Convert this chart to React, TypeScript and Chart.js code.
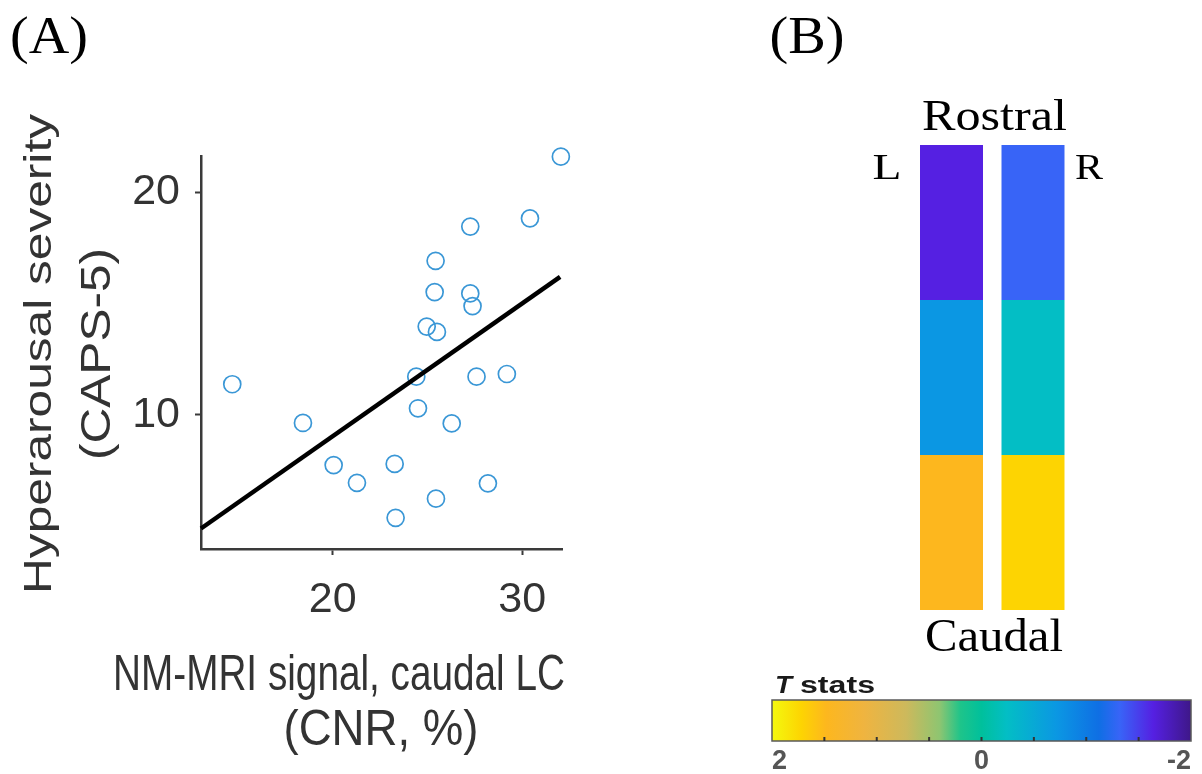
import React, { useEffect, useRef } from 'react';
import { Chart, registerables } from 'chart.js';

Chart.register(...registerables);

// ---------------- Panel A data ----------------
const cnrCaudalLC = [32.04, 30.41, 27.26, 25.43, 25.38, 27.26, 27.38, 24.96, 25.5, 24.41, 27.59, 29.19, 14.7, 24.5, 18.43, 26.28, 20.05, 23.27, 21.28, 28.19, 25.45, 23.32];
const hyperarousalSeverity = [21.6, 18.83, 18.46, 16.92, 15.52, 15.46, 14.89, 13.97, 13.73, 11.72, 11.72, 11.84, 11.38, 10.3, 9.64, 9.62, 7.75, 7.8, 6.95, 6.93, 6.24, 5.38];
const fitLineX = [13.05, 32.0];
const fitLineY = [4.9, 16.2];
const xTicksA = [20, 30];
const yTicksA = [10, 20];
const xLimitsA = [13.05, 32.1];
const yLimitsA = [3.98, 21.63];

// ---------------- Panel B data ----------------
const sideLabels = ['L', 'R'];
const segmentNames = ['Caudal', 'Middle', 'Rostral']; // bottom to top
const segmentLengths = [1, 1, 1];
const tStatsLeft = [1.48, -0.72, -1.64];
const tStatsRight = [1.72, -0.24, -1.32];
const tLimits = [-2, 2];
const tMinorTicks = [-2, -1.5, -1, -0.5, 0, 0.5, 1, 1.5, 2];
const tTickLabels = [2, 0, -2];

// colormap (T value -> colour)
const colormapT = [2, 1.72, 1.48, 1.12, 0.72, 0.4, 0.2, 0, -0.24, -0.72, -1.12, -1.32, -1.64, -2];
const colormapHex = ['#f4f90e', '#fdd402', '#fdb71e', '#efb440', '#cdb95c', '#8ec571', '#1ec48a', '#00c09c', '#03bec5', '#0b97e3', '#0f6fe4', '#3864f7', '#5520e2', '#3e1788'];

const SANS = "'Liberation Sans', Arial, Helvetica, sans-serif";
const SERIF = "'Liberation Serif', 'Times New Roman', serif";

function hexToRgb(h: string) {
  const n = parseInt(h.slice(1), 16);
  return [(n >> 16) & 255, (n >> 8) & 255, n & 255];
}

function colorForT(t: number): string {
  for (let i = 0; i < colormapT.length - 1; i++) {
    const a = colormapT[i];
    const b = colormapT[i + 1];
    if (t <= a && t >= b) {
      const f = (a - t) / (a - b);
      const ca = hexToRgb(colormapHex[i]);
      const cb = hexToRgb(colormapHex[i + 1]);
      const c = ca.map((v, k) => Math.round(v + (cb[k] - v) * f));
      return `rgb(${c[0]},${c[1]},${c[2]})`;
    }
  }
  return t > colormapT[0] ? colormapHex[0] : colormapHex[colormapHex.length - 1];
}

type TextOpts = {
  font: string;
  color?: string;
  align?: CanvasTextAlign;
  rotate?: number;
  width?: number;
};

function drawText(ctx: CanvasRenderingContext2D, text: string, x: number, y: number, o: TextOpts) {
  ctx.save();
  ctx.translate(x, y);
  if (o.rotate) ctx.rotate(o.rotate);
  ctx.font = o.font;
  ctx.fillStyle = o.color || '#333';
  ctx.textAlign = o.align || 'center';
  ctx.textBaseline = 'alphabetic';
  if (o.width) {
    const w = ctx.measureText(text).width;
    if (w > 0) ctx.scale(o.width / w, 1);
  }
  ctx.fillText(text, 0, 0);
  ctx.restore();
}

const AXIS = '#3a3a3a';
const TEXT = '#333333';

export default function App() {
  const refA = useRef<HTMLCanvasElement | null>(null);
  const refB = useRef<HTMLCanvasElement | null>(null);
  const refC = useRef<HTMLCanvasElement | null>(null);

  useEffect(() => {
    const charts: Chart[] = [];

    // ---------- Panel A ----------
    const labelsA = {
      id: 'labelsA',
      afterDraw(chart: any) {
        const ctx = chart.ctx as CanvasRenderingContext2D;
        drawText(ctx, '(A)', 49, 53, { font: `52px ${SERIF}`, color: '#000', width: 78 });
        drawText(ctx, 'Hyperarousal severity', 51, 354, { font: `39px ${SANS}`, color: TEXT, rotate: -Math.PI / 2, width: 480 });
        drawText(ctx, '(CAPS-5)', 110, 354, { font: `42px ${SANS}`, color: TEXT, rotate: -Math.PI / 2, width: 212 });
        drawText(ctx, 'NM-MRI signal, caudal LC', 339, 690, { font: `50px ${SANS}`, color: TEXT, width: 452 });
        drawText(ctx, '(CNR, %)', 381, 745, { font: `50px ${SANS}`, color: TEXT, width: 195 });
      },
    };

    if (refA.current) {
      charts.push(
        new Chart(refA.current, {
          type: 'scatter',
          data: {
            datasets: [
              {
                data: fitLineX.map((x, i) => ({ x, y: fitLineY[i] })),
                showLine: true,
                borderColor: '#000',
                borderWidth: 4.5,
                pointRadius: 0,
                clip: false as any,
                order: 0,
              },
              {
                data: cnrCaudalLC.map((x, i) => ({ x, y: hyperarousalSeverity[i] })),
                pointStyle: 'circle',
                pointRadius: 8.5,
                pointBorderWidth: 1.7,
                borderColor: '#3a97d6',
                backgroundColor: 'rgba(0,0,0,0)',
                clip: false as any,
                order: 1,
              },
            ],
          },
          options: {
            responsive: false,
            animation: false,
            events: [],
            layout: { padding: { left: 0, top: 156, right: 38, bottom: 0 } },
            plugins: { legend: { display: false }, tooltip: { enabled: false } },
            scales: {
              x: {
                type: 'linear',
                min: xLimitsA[0],
                max: xLimitsA[1],
                afterBuildTicks: (s: any) => {
                  s.ticks = xTicksA.map((v) => ({ value: v }));
                },
                afterFit: (s: any) => {
                  s.height = 225;
                },
                grid: { display: true, drawOnChartArea: false, drawTicks: true, tickLength: 6, tickColor: AXIS, tickWidth: 2 },
                border: { display: true, color: AXIS, width: 2.5 },
                ticks: { font: { family: SANS, size: 43 }, color: TEXT, padding: 19, maxRotation: 0, autoSkip: false },
              },
              y: {
                type: 'linear',
                min: yLimitsA[0],
                max: yLimitsA[1],
                afterBuildTicks: (s: any) => {
                  s.ticks = yTicksA.map((v) => ({ value: v }));
                },
                afterFit: (s: any) => {
                  s.width = 201;
                },
                grid: { display: true, drawOnChartArea: false, drawTicks: true, tickLength: 6, tickColor: AXIS, tickWidth: 2 },
                border: { display: true, color: AXIS, width: 2.5 },
                ticks: { font: { family: SANS, size: 43 }, color: TEXT, padding: 15, autoSkip: false },
              },
            },
          },
          plugins: [labelsA],
        } as any)
      );
    }

    // ---------- Panel B bars ----------
    const labelsB = {
      id: 'labelsB',
      afterDraw(chart: any) {
        const ctx = chart.ctx as CanvasRenderingContext2D;
        drawText(ctx, '(B)', 207, 53, { font: `52px ${SERIF}`, color: '#000', width: 75 });
        drawText(ctx, 'Rostral', 394.5, 130, { font: `44px ${SERIF}`, color: '#000', width: 145 });
        drawText(ctx, 'Caudal', 394, 651, { font: `46px ${SERIF}`, color: '#000', width: 138 });
        drawText(ctx, sideLabels[0], 287, 179, { font: `36px ${SERIF}`, color: '#000', width: 29 });
        drawText(ctx, sideLabels[1], 489, 179, { font: `36px ${SERIF}`, color: '#000', width: 28 });
      },
    };

    if (refB.current) {
      charts.push(
        new Chart(refB.current, {
          type: 'bar',
          data: {
            labels: sideLabels,
            datasets: segmentNames.map((name, si) => ({
              label: name,
              data: sideLabels.map(() => segmentLengths[si]),
              backgroundColor: [colorForT(tStatsLeft[si]), colorForT(tStatsRight[si])],
              borderWidth: 0,
              barPercentage: 0.773,
              categoryPercentage: 1,
            })),
          },
          options: {
            responsive: false,
            animation: false,
            events: [],
            layout: { padding: { left: 310.75, right: 128.25, top: 145, bottom: 50 } },
            plugins: { legend: { display: false }, tooltip: { enabled: false } },
            scales: {
              x: { stacked: true, display: false },
              y: { stacked: true, display: false, min: 0, max: segmentLengths.reduce((a, b) => a + b, 0) },
            },
          },
          plugins: [labelsB],
        } as any)
      );
    }

    // ---------- Panel B colour bar ----------
    const colorbar = {
      id: 'colorbar',
      beforeDatasetsDraw(chart: any) {
        const ctx = chart.ctx as CanvasRenderingContext2D;
        const xs = chart.scales.x;
        const { top, bottom, left, right } = chart.chartArea;
        const p0 = xs.getPixelForValue(tLimits[1]);
        const p1 = xs.getPixelForValue(tLimits[0]);
        const grad = ctx.createLinearGradient(p0, 0, p1, 0);
        colormapT.forEach((t, i) => {
          const f = (xs.getPixelForValue(t) - p0) / (p1 - p0);
          grad.addColorStop(Math.min(1, Math.max(0, f)), colormapHex[i]);
        });
        ctx.save();
        ctx.fillStyle = grad;
        ctx.fillRect(left, top, right - left, bottom - top);
        ctx.strokeStyle = '#5a5a5a';
        ctx.lineWidth = 1.5;
        ctx.strokeRect(left, top, right - left, bottom - top);
        ctx.strokeStyle = '#333';
        ctx.lineWidth = 2;
        tMinorTicks.forEach((t) => {
          if (t === tLimits[0] || t === tLimits[1]) return;
          const px = xs.getPixelForValue(t);
          ctx.beginPath();
          ctx.moveTo(px, bottom);
          ctx.lineTo(px, bottom - 4);
          ctx.stroke();
        });
        ctx.restore();
        drawText(ctx, 'T', 35, 33, { font: `italic bold 23px ${SANS}`, color: '#1a1a1a', align: 'left', width: 17 });
        drawText(ctx, 'stats', 60, 33, { font: `bold 23px ${SANS}`, color: '#1a1a1a', align: 'left', width: 75 });
      },
    };

    if (refC.current) {
      charts.push(
        new Chart(refC.current, {
          type: 'scatter',
          data: { datasets: [{ data: [] }] },
          options: {
            responsive: false,
            animation: false,
            events: [],
            layout: { padding: { left: 32, right: 11, top: 40, bottom: 0 } },
            plugins: { legend: { display: false }, tooltip: { enabled: false } },
            scales: {
              x: {
                type: 'linear',
                min: tLimits[0],
                max: tLimits[1],
                reverse: true,
                afterBuildTicks: (s: any) => {
                  s.ticks = tMinorTicks.map((v) => ({ value: v }));
                },
                afterFit: (s: any) => {
                  s.height = 33;
                },
                grid: { display: false, drawTicks: false },
                border: { display: false },
                ticks: {
                  autoSkip: false,
                  maxRotation: 0,
                  align: 'inner',
                  padding: 4,
                  color: '#555',
                  font: { family: SANS, size: 27, weight: 'bold' },
                  callback: (v: any) => (tTickLabels.includes(Number(v)) ? String(v) : ''),
                },
              },
              y: { display: false, min: 0, max: 1 },
            },
          },
          plugins: [colorbar],
        } as any)
      );
    }

    return () => {
      charts.forEach((c) => c.destroy());
    };
  }, []);

  return (
    <div style={{ position: 'absolute', left: 0, top: 0, width: 1202, height: 774, background: '#fff', overflow: 'hidden' }}>
      <canvas ref={refA} width={600} height={774} style={{ position: 'absolute', left: 0, top: 0 }} />
      <canvas ref={refB} width={602} height={660} style={{ position: 'absolute', left: 600, top: 0 }} />
      <canvas ref={refC} width={462} height={114} style={{ position: 'absolute', left: 740, top: 660 }} />
    </div>
  );
}
